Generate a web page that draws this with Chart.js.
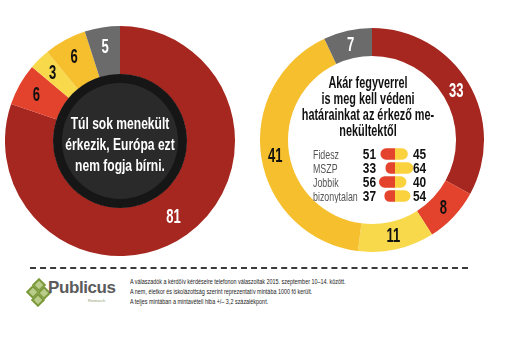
<!DOCTYPE html>
<html>
<head>
<meta charset="utf-8">
<script src="https://cdn.jsdelivr.net/npm/chart.js"></script>
<style>
  body { margin: 0; background: #fff; width: 510px; height: 350px; position: relative; overflow: hidden; font-family: "Liberation Sans", sans-serif; }
  canvas { position: absolute; }
  #rule { position: absolute; left: 30px; top: 267px; width: 438px; border-top: 2px dashed #3a3a3a; }
  #logo { position: absolute; left: 28px; top: 277px; width: 95px; height: 32px; }
  .dia { position: absolute; width: 6px; height: 6px; border: 2px solid #7c9a3c; background: #b9cc8a; transform: rotate(45deg); }
  #logo .word { position: absolute; left: 20px; top: 1px; font: bold 17px "Liberation Sans", sans-serif; color: #5b5b5b; letter-spacing: -0.4px; }
  #logo .sub { position: absolute; left: 60px; top: 21px; font: 4px "Liberation Sans", sans-serif; color: #8a9a6a; }
  #notes { position: absolute; left: 130px; top: 277px; font-size: 6.4px; line-height: 10.2px; color: #222; white-space: nowrap; transform: scaleX(0.85); transform-origin: 0 0; }
</style>
</head>
<body>
<canvas id="left" width="230" height="230" style="left:5px; top:26px"></canvas>
<canvas id="right" width="224" height="224" style="left:260px; top:28px"></canvas>
<canvas id="mini" width="130" height="56" style="left:305px; top:147px"></canvas>
<div id="rule"></div>
<div id="logo">
  <div class="dia" style="left:6px; top:3px"></div>
  <div class="dia" style="left:0px; top:10px"></div>
  <div class="dia" style="left:11px; top:11px"></div>
  <div class="dia" style="left:5px; top:18px"></div>
  <div class="word">Publicus</div>
  <div class="sub">Research</div>
</div>
<div id="notes"></div>
<script>
// answer categories, same order in both rings
const answers = ['Teljesen egyetért', 'Inkább egyetért', 'Inkább nem ért egyet', 'Egyáltalán nem ért egyet', 'Nem tudja'];
const colors = ['#a5271f', '#e3422c', '#f8d94b', '#f6bf2e', '#6b6b6b'];
const labelColors = ['#fff', '#111', '#111', '#111', '#fff'];

const leftValues = [81, 6, 3, 6, 5];
const leftTitle = ['Túl sok menekült', 'érkezik, Európa ezt', 'nem fogja bírni.'];

const rightValues = [33, 8, 11, 41, 7];
const rightTitle = ['Akár fegyverrel', 'is meg kell védeni', 'határainkat az érkező me-', 'nekültektől'];

const parties = ['Fidesz', 'MSZP', 'Jobbik', 'bizonytalan'];
const partyAgree = [51, 33, 56, 37];
const partyDisagree = [45, 64, 40, 54];

const notes = [
  'A válaszadók a kérdőív kérdéseire telefonon válaszoltak 2015. szeptember 10–14. között.',
  'A nem, életkor és iskolázottság szerint reprezentatív mintába 1000 fő került.',
  'A teljes mintában a mintavételi hiba +/– 3,2 százalékpont.'
];
document.getElementById('notes').innerHTML = notes.join('<br>');

// no condensed font installed, so squeeze the normal one
function squeezed(ctx, text, x, y, align, sx) {
  ctx.save();
  ctx.translate(x, y);
  ctx.scale(sx, 1);
  ctx.textAlign = align;
  ctx.fillText(text, 0, 0);
  ctx.restore();
}

// numbers inside the ring segments
function ringLabels(labelRadius) {
  return {
    id: 'ringLabels',
    afterDatasetsDraw(chart) {
      const ctx = chart.ctx;
      const meta = chart.getDatasetMeta(0);
      const values = chart.data.datasets[0].data;
      ctx.save();
      ctx.font = 'bold 21px "Liberation Sans", sans-serif';
      ctx.textBaseline = 'middle';
      meta.data.forEach((arc, i) => {
        const a = (arc.startAngle + arc.endAngle) / 2;
        const r = typeof labelRadius === 'function' ? labelRadius(i) : labelRadius;
        ctx.fillStyle = labelColors[i];
        squeezed(ctx, String(values[i]), arc.x + Math.cos(a) * r, arc.y + Math.sin(a) * r + 1, 'center', 0.62);
      });
      ctx.restore();
    }
  };
}

// black disk with white question in the left ring
const leftCenter = {
  id: 'leftCenter',
  afterDatasetsDraw(chart) {
    const ctx = chart.ctx;
    const arc = chart.getDatasetMeta(0).data[0];
    ctx.save();
    ctx.beginPath();
    ctx.arc(arc.x, arc.y, 67, 0, Math.PI * 2);
    ctx.fillStyle = '#161616';
    ctx.fill();
    ctx.beginPath();
    ctx.arc(arc.x, arc.y, 58, 0, Math.PI * 2);
    ctx.fillStyle = '#2a2a2a';
    ctx.fill();
    ctx.fillStyle = '#fff';
    ctx.font = 'bold 17px "Liberation Sans", sans-serif';
    ctx.textBaseline = 'middle';
    leftTitle.forEach((t, i) => squeezed(ctx, t, arc.x, arc.y - 17 + i * 21, 'center', 0.71));
    ctx.restore();
  }
};

const rightCenter = {
  id: 'rightCenter',
  afterDatasetsDraw(chart) {
    const ctx = chart.ctx;
    const arc = chart.getDatasetMeta(0).data[0];
    ctx.save();
    ctx.fillStyle = '#111';
    ctx.font = 'bold 16px "Liberation Sans", sans-serif';
    ctx.textBaseline = 'middle';
    rightTitle.forEach((t, i) => squeezed(ctx, t, arc.x - 4, arc.y - 56 + i * 16, 'center', 0.68));
    ctx.restore();
  }
};

function ringConfig(values, cutout, plugins) {
  return {
    type: 'doughnut',
    data: {
      labels: answers,
      datasets: [{ data: values, backgroundColor: colors, borderWidth: 0 }]
    },
    options: {
      responsive: false,
      animation: false,
      cutout: cutout,
      plugins: { legend: { display: false }, tooltip: { enabled: false } }
    },
    plugins: plugins
  };
}

new Chart(document.getElementById('left'),
  ringConfig(leftValues, '58%', [leftCenter, ringLabels(i => i === 0 ? 92 : 96)]));
new Chart(document.getElementById('right'),
  ringConfig(rightValues, '75%', [rightCenter, ringLabels(98)]));

// party breakdown next to the right question
const partyText = {
  id: 'partyText',
  afterDatasetsDraw(chart) {
    const ctx = chart.ctx;
    const y = chart.scales.y;
    const area = chart.chartArea;
    ctx.save();
    ctx.textBaseline = 'middle';
    parties.forEach((p, i) => {
      const py = y.getPixelForValue(i) + 1;
      ctx.font = '13px "Liberation Sans", sans-serif';
      ctx.fillStyle = '#555';
      squeezed(ctx, p, 8, py, 'left', 0.68);
      ctx.font = 'bold 14px "Liberation Sans", sans-serif';
      ctx.fillStyle = '#111';
      squeezed(ctx, String(partyAgree[i]), area.left + 1, py, 'right', 0.85);
      squeezed(ctx, String(partyDisagree[i]), area.right - 2, py, 'left', 0.85);
    });
    ctx.restore();
  }
};

new Chart(document.getElementById('mini'), {
  type: 'bar',
  data: {
    labels: parties,
    datasets: [
      { data: partyAgree.map(v => -v), backgroundColor: '#e4442e', borderRadius: 6, borderSkipped: 'start', barPercentage: 0.82, categoryPercentage: 1 },
      { data: partyDisagree, backgroundColor: '#f9d23e', borderRadius: 6, borderSkipped: 'start', barPercentage: 0.82, categoryPercentage: 1 }
    ]
  },
  options: {
    indexAxis: 'y',
    responsive: false,
    animation: false,
    layout: { padding: { left: 70, right: 20 } },
    scales: {
      x: { stacked: true, display: false, min: -70, max: 70 },
      y: { stacked: true, display: false }
    },
    plugins: { legend: { display: false }, tooltip: { enabled: false } }
  },
  plugins: [partyText]
});
</script>
</body>
</html>
